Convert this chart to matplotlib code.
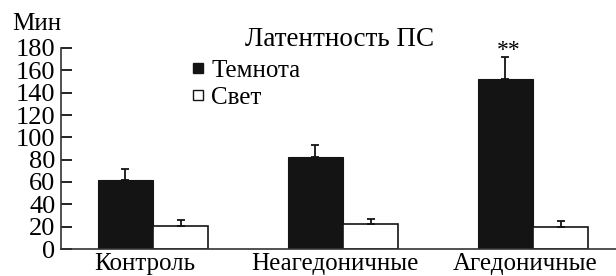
import matplotlib
matplotlib.use("Agg")
import matplotlib.pyplot as plt
from matplotlib.lines import Line2D
import matplotlib.transforms as mtransforms
import numpy as np

categories = ["Контроль", "Неагедоничные", "Агедоничные"]
dark_vals = [62, 82, 152]
dark_err = [10, 11, 20]
light_vals = [21, 22, 20]
light_err = [5, 4.5, 5]
yticks = [0, 20, 40, 60, 80, 100, 120, 140, 160, 180]

plt.rcParams['font.family'] = ['Liberation Serif', 'DejaVu Serif']

fig = plt.figure(figsize=(6.16, 2.76), dpi=100)
ax = fig.add_axes([61/616, 27/276, 555/616, 201/276])

x = np.arange(len(categories))
w = 0.29
ax.bar(x - w/2, dark_vals, w, color='#141414', edgecolor='#141414', linewidth=0.8,
       yerr=[np.zeros(3), dark_err], error_kw=dict(ecolor='#141414', elinewidth=1.3, capsize=3, capthick=1.3))
ax.bar(x + w/2, light_vals, w, color='white', edgecolor='#141414', linewidth=1.2,
       yerr=[np.zeros(3), light_err], error_kw=dict(ecolor='#141414', elinewidth=1.3, capsize=3, capthick=1.3))

ax.text(x[2] - w/2 + 0.02, dark_vals[2] + dark_err[2] - 4, "**", ha='center', va='bottom', fontsize=17)

ax.set_xlim(-0.484, 2.437)
ax.set_ylim(0, 180)
ax.set_yticks(yticks)
ax.set_xticks(x)
ax.set_xticklabels(categories, fontsize=18)
ax.tick_params(axis='x', length=0, pad=3)
ax.tick_params(axis='y', direction='in', length=8, width=1.2, labelsize=19, pad=4)
offset = mtransforms.ScaledTranslation(-8/100, 0, fig.dpi_scale_trans)
for lab in ax.get_xticklabels():
    lab.set_transform(lab.get_transform() + offset)
for s in ['top', 'right']:
    ax.spines[s].set_visible(False)
for s in ['left', 'bottom']:
    ax.spines[s].set_linewidth(1.2)
    ax.spines[s].set_color('#333333')

fig.text(12/616, 1 - 24/276, "Мин", fontsize=18, va='center', ha='left')
fig.text(245/616, 1 - 40/276, "Латентность ПС", fontsize=19.5, va='center', ha='left')

handles = [Line2D([], [], marker='s', linestyle='none', markerfacecolor='#141414', markeredgecolor='#141414', markersize=7.5),
           Line2D([], [], marker='s', linestyle='none', markerfacecolor='white', markeredgecolor='#141414', markersize=7.5, markeredgewidth=1)]
fig.legend(handles, ["Темнота", "Свет"], loc='upper left', bbox_to_anchor=(190/616, 1 - 59/276),
           frameon=False, fontsize=18, handlelength=0.6, handletextpad=0.25, labelspacing=0.2,
           borderpad=0, borderaxespad=0)

fig.savefig("out.png", dpi=100)
